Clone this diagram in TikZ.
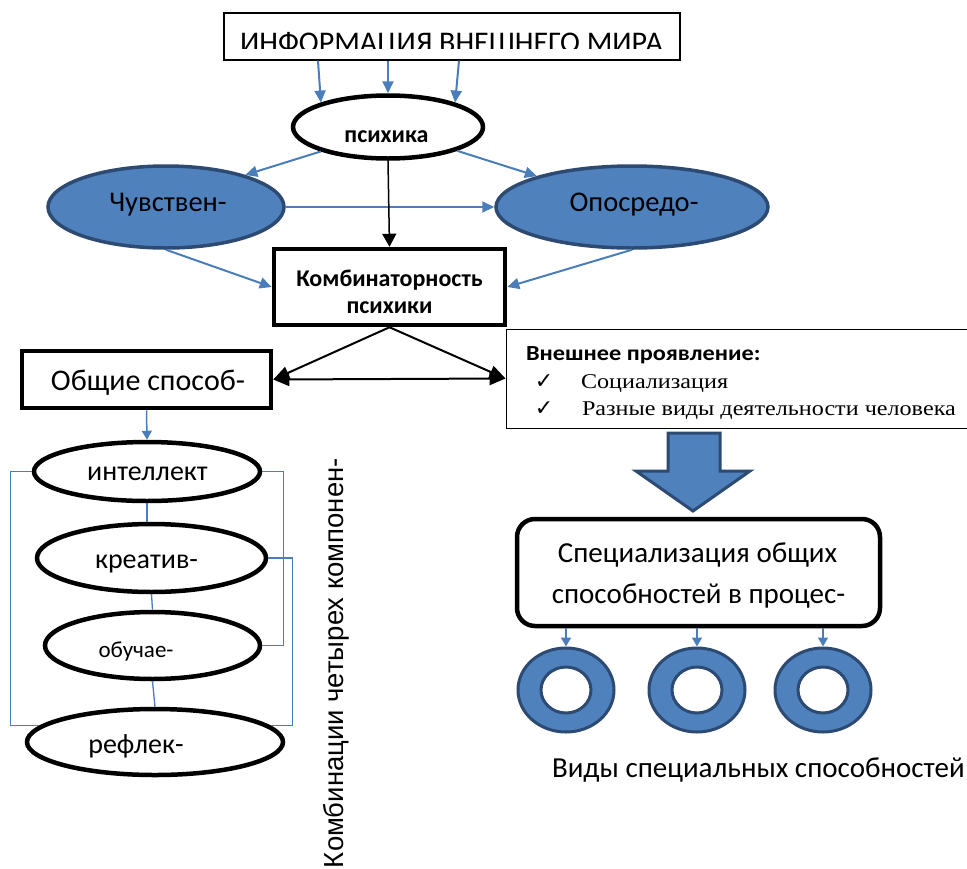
\documentclass[tikz,border=0pt]{standalone}
\usepackage{fontspec}
\setmainfont{Carlito}
\newfontfamily\arialf{Liberation Sans}
\newfontfamily\timesw[FakeStretch=1.15]{Liberation Serif}
\newfontfamily\calw[FakeStretch=1.13]{Carlito}
\newfontfamily\dejavu{DejaVu Sans}
\usetikzlibrary{shapes.geometric,arrows.meta,calc}
\newcommand\fsz[1]{\fontsize{#1}{#1}\selectfont}
\definecolor{ofblue}{HTML}{4F81BD}
\definecolor{bnavy}{HTML}{2C4A72}
\definecolor{conblue}{HTML}{4A7EBB}
\begin{document}
\begin{tikzpicture}[x=1pt,y=-1pt,
  txt/.style={anchor=base,inner sep=0pt,outer sep=0pt},
  ell/.style={ellipse,draw=black,line width=4.5pt,inner sep=0pt},
  bell/.style={ellipse,draw=bnavy,fill=ofblue,line width=3.5pt,inner sep=0pt},
  thickbox/.style={rectangle,draw=black,line width=4.5pt,inner sep=0pt},
  bluearr/.style={draw=conblue,line width=2pt,-{Triangle[length=12pt,width=11pt]}},
  smallarr/.style={draw=conblue,line width=1.5pt,-{Triangle[length=9pt,width=10pt]}},
  blackarr/.style={draw=black,line width=2pt,-{Triangle[length=16pt,width=13pt]}},
  blackthin/.style={draw=black,line width=1.5pt,-{Triangle[length=13pt,width=14pt]}},
  conn/.style={draw=conblue,line width=1.3pt},
  ringout/.style={ellipse,fill=ofblue,draw=bnavy,line width=3pt,minimum width=96pt,minimum height=84pt,inner sep=0pt},
  ringin/.style={ellipse,fill=white,draw=bnavy,line width=3pt,minimum width=50pt,minimum height=46pt,inner sep=0pt}
]
\useasboundingbox (0,0) rectangle (967,868);
\fill[white] (0,0) rectangle (967,868);

% top box
\node[draw,line width=1.2pt,minimum width=456pt,minimum height=47pt,inner sep=0pt] (info) at (452,36.5) {};
\begin{scope}
\clip (226,14) rectangle (678,48.5);
\node[txt,font=\fsz{30}] (infotext) at (451.5,52) {ИНФОРМАЦИЯ ВНЕШНЕГО МИРА};
\end{scope}

% psyche
\node[ell,minimum width=190pt,minimum height=63pt] (psy) at (388,127) {};
\node[txt,font=\bfseries\fsz{24}] (psyt) at (386.5,142) {психика};

% blue ellipses
\node[bell,minimum width=236pt,minimum height=82pt] (chuv) at (166,207) {};
\node[txt,font=\fsz{28.5}] (chuvt) at (168,211) {Чувствен-};
\node[bell,minimum width=272pt,minimum height=82pt] (opos) at (632,207) {};
\node[txt,font=\fsz{28.5}] (opost) at (634,211) {Опосредо-};

% combinatorics box
\node[thickbox,minimum width=231pt,minimum height=76pt] (komb) at (389.5,287) {};
\node[txt,font=\bfseries\fsz{24}] (komb1) at (389.5,286) {Комбинаторность};
\node[txt,font=\bfseries\fsz{24}] (komb2) at (389.5,313) {психики};

% general abilities
\node[thickbox,minimum width=249pt,minimum height=57pt] (obsh) at (146.5,379.5) {};
\node[txt,font=\fsz{30}] (obsht) at (148,390) {Общие способ-};

% external manifestation box
\node[draw,line width=1pt,minimum width=461pt,minimum height=99pt,inner sep=0pt] (vnesh) at (736.5,378.5) {};
\node[txt,anchor=base west,font=\calw\bfseries\fsz{21.5}] (vn0) at (526,360) {Внешнее проявление:};
\node[txt,font=\dejavu\fsz{22}] (ck1) at (544,388) {✓};
\node[txt,anchor=base west,font=\timesw\fsz{21}] (vn1) at (581,388) {Социализация};
\node[txt,font=\dejavu\fsz{22}] (ck2) at (544,415) {✓};
\node[txt,anchor=base west,font=\timesw\fsz{21}] (vn2) at (582,415) {Разные виды деятельности человека};

% four components
\node[ell,minimum width=226pt,minimum height=59pt] (intel) at (147,471.5) {};
\node[txt,font=\fsz{28}] (intelt) at (147.5,480) {интеллект};
\node[ell,minimum width=229pt,minimum height=68pt] (kreat) at (151.5,558) {};
\node[txt,font=\fsz{28}] (kreatt) at (146.5,568) {креатив-};
\node[ell,minimum width=215pt,minimum height=67pt] (obuch) at (152.5,645.5) {};
\node[txt,font=\fsz{23}] (obucht) at (136,657) {обучае-};
\node[ell,minimum width=256pt,minimum height=66pt] (refl) at (155,742) {};
\node[txt,font=\fsz{28}] (reflt) at (136,753) {рефлек-};

\node[txt,anchor=base west,rotate=90,font=\arialf\fsz{27.5}] (comb4) at (343,868) {Комбинации четырех компонен-};

% big arrow
\filldraw[fill=ofblue,draw=bnavy,line width=3pt,line join=miter]
  (668,433) -- (720,433) -- (720,471) -- (750,471) -- (693,511) -- (636,471) -- (668,471) -- cycle;

% specialization box
\node[draw,line width=4.5pt,rounded corners=18pt,minimum width=363pt,minimum height=107pt,inner sep=0pt] (spec) at (698.5,572.5) {};
\node[txt,font=\fsz{29}] (spec1) at (697.5,562) {Специализация общих};
\node[txt,font=\fsz{29}] (spec2) at (698.5,603) {способностей в процес-};

% rings
\node[ringout] (ring1) at (566,690) {};
\node[ringin] (hole1) at (ring1.center) {};
\node[ringout] (ring2) at (697,690) {};
\node[ringin] (hole2) at (ring2.center) {};
\node[ringout] (ring3) at (823,690) {};
\node[ringin] (hole3) at (ring3.center) {};

\node[txt,anchor=base west,font=\fsz{29}] (vidy) at (552,777) {Виды специальных способностей};

% connectors
\draw[bluearr] ($(info.south)+(-134,0)$) -- (psy.160);
\draw[bluearr] ($(info.south)+(-64,0)$) -- (psy.north);
\draw[bluearr] ($(info.south)+(7,0)$) -- (psy.20);
\draw[bluearr] (psy.200) -- (chuv.22);
\draw[bluearr] (psy.-19) -- (opos.162);
\draw[bluearr] (chuv.east) -- (opos.west);
\draw[blackthin] (psy.south) -- (komb.north);
\draw[bluearr] (chuv.south) -- (komb.west);
\draw[bluearr] (opos.south) -- (komb.east);
\draw[blackarr] (komb.south) -- (obsh.east);
\draw[blackarr] (komb.south) -- (vnesh.west);
\draw[blackarr,{Triangle[length=16pt,width=13pt]}-{Triangle[length=16pt,width=13pt]}] (obsh.east) -- (vnesh.west);
\draw[smallarr] (obsh.south) -- (intel.north);
\draw[conn] (intel.south) -- (intel.south |- kreat.north);
\draw[conn] (kreat.south) -- (obuch.north);
\draw[conn] (obuch.south) -- (refl.north);
\draw[conn] (intel.west) -- ++(-21,0) |- (refl.172);
\draw[conn] (intel.east) -- ++(21,0) |- (obuch.east);
\draw[conn] (kreat.east) -- ++(24,0) |- (refl.8);
\draw[smallarr] (spec.south -| ring1.north) -- (ring1.north);
\draw[smallarr] (spec.south -| ring2.north) -- (ring2.north);
\draw[smallarr] (spec.south -| ring3.north) -- (ring3.north);
\end{tikzpicture}
\end{document}
